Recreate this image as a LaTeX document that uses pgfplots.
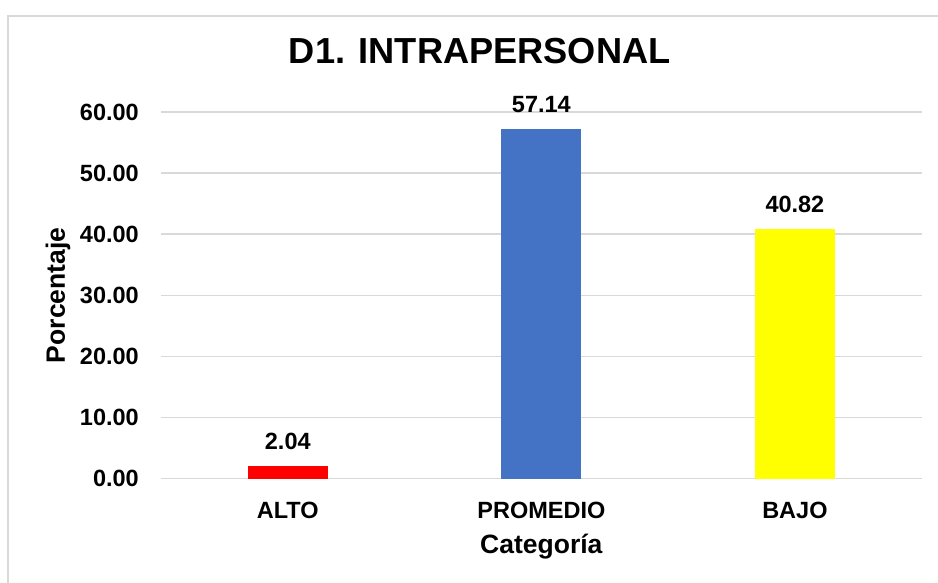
\documentclass[border=0pt]{standalone}
\usepackage{fontspec}
\setmainfont{Liberation Sans}
\usepackage{pgfplots}
\pgfplotsset{compat=1.18}
\pgfkeys{/pgf/number format/assume math mode=true}
\definecolor{gridc}{HTML}{D9D9D9}
\definecolor{framec}{HTML}{D9D9D9}
\definecolor{cred}{HTML}{FF0000}
\definecolor{cblue}{HTML}{4472C4}
\definecolor{cyellow}{HTML}{FFFF00}
\begin{document}
\begin{tikzpicture}[x=1pt,y=1pt]
\useasboundingbox (0,0) rectangle (938,-583);
\draw[framec, line width=1.3pt] (8,-590) -- (8,-16) -- (945,-16);
\begin{axis}[
  at={(161pt,-478.7pt)}, anchor=south west,
  scale only axis, width=760.7pt, height=366.7pt,
  xmin=-0.5, xmax=2.5, ymin=0, ymax=60,
  ytick={0,10,20,30,40,50,60},
  xtick={0,1,2}, xticklabels={ALTO,PROMEDIO,BAJO},
  axis line style={draw=none},
  tick style={draw=none},
  ymajorgrids, grid style={gridc, line width=1.5pt},
  ybar, bar width=80pt,
  yticklabel style={/pgf/number format/fixed, /pgf/number format/fixed zerofill, /pgf/number format/precision=2, /pgf/number format/assume math mode=true, font=\fontsize{23.5}{28}\selectfont\bfseries, anchor=east, inner sep=0pt, xshift=-22pt},
  xticklabel style={font=\fontsize{23.5}{28}\selectfont\bfseries, anchor=north, inner sep=0pt, yshift=-19pt},
  ylabel={Porcentaje},
  ylabel style={at={(axis description cs:0,0.5)}, anchor=base, inner sep=0pt, yshift=96pt, font=\fontsize{26.5}{30}\selectfont\bfseries},
  xlabel={Categoría},
  xlabel style={at={(axis description cs:0.5,0)}, anchor=base, inner sep=0pt, yshift=-74.3pt, font=\fontsize{26.5}{30}\selectfont\bfseries},
  title={D1. INTRAPERSONAL},
  title style={at={(axis description cs:0,1)}, anchor=base, inner sep=0pt, xshift=318.7pt, yshift=42.7pt, font=\fontsize{36.2}{40}\selectfont\bfseries},
  nodes near coords={\pgfmathprintnumber[fixed,fixed zerofill,precision=2,assume math mode=true]{\pgfplotspointmeta}},
  every node near coord/.append style={font=\fontsize{23.5}{28}\selectfont\bfseries, anchor=south, inner sep=0pt, yshift=16.5pt, text=black},
  clip=false,
]
\addplot[fill=cred, draw=none, bar shift=0pt] coordinates {(0,2.04)};
\addplot[fill=cblue, draw=none, bar shift=0pt] coordinates {(1,57.14)};
\addplot[fill=cyellow, draw=none, bar shift=0pt] coordinates {(2,40.82)};
\end{axis}
\end{tikzpicture}
\end{document}
